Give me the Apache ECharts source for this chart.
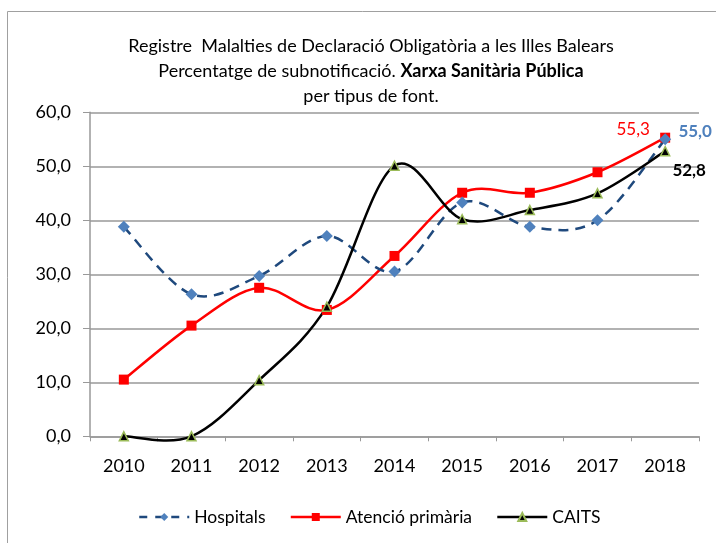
<!DOCTYPE html>
<html>
<head>
<meta charset="utf-8">
<script src="https://cdn.jsdelivr.net/npm/echarts@6/dist/echarts.min.js"></script>
<style>html,body{margin:0;padding:0;background:#fff}#c{width:716px;height:543px}</style>
</head>
<body>
<div id="c"></div>
<script>
var categories = ['2010','2011','2012','2013','2014','2015','2016','2017','2018'];
var hospitals = [38.8, 26.3, 29.7, 37.1, 30.5, 43.3, 38.8, 40.0, 55.0];
var atencio = [10.5, 20.5, 27.5, 23.4, 33.4, 45.1, 45.1, 48.9, 55.3];
var caits = [0.0, 0.0, 10.4, 24.0, 50.1, 40.2, 41.9, 45.0, 52.8];
var seriesNames = ['Hospitals', 'Atenció primària', 'CAITS'];

var FONT = 'Lato';
function fmt(v){ return v.toFixed(1).replace('.', ','); }
function withLastLabel(arr, labelOpt){
  return arr.map(function(v, i){
    if (i === arr.length - 1) return { value: v, label: labelOpt };
    return v;
  });
}
// Smooth curve (Catmull-Rom style, like spreadsheet smoothing) drawn through the axis scales
function curveSeries(arr, lineStyle, z){
  return {
    type: 'custom', silent: true, z: z, clip: false,
    data: arr,
    renderItem: function(params, api){
      if (params.dataIndex !== 0) return null;
      var p = arr.map(function(v, i){ return api.coord([i, v]); });
      var n = p.length;
      var d = 'M' + p[0][0] + ' ' + p[0][1];
      for (var i = 0; i < n - 1; i++) {
        var a = p[i - 1] || p[i], b = p[i], c = p[i + 1], e = p[i + 2] || p[i + 1];
        var c1x = b[0] + (c[0] - a[0]) / 6, c1y = b[1] + (c[1] - a[1]) / 6;
        var c2x = c[0] - (e[0] - b[0]) / 6, c2y = c[1] - (e[1] - b[1]) / 6;
        d += ' C' + c1x + ' ' + c1y + ' ' + c2x + ' ' + c2y + ' ' + c[0] + ' ' + c[1];
      }
      return {
        type: 'path', shape: { pathData: d },
        style: { fill: null, stroke: lineStyle.color, lineWidth: lineStyle.width, lineDash: lineStyle.dash || null }
      };
    }
  };
}

var hospLine = { color: '#1F497D', width: 2.5, dash: [10, 7] };
var atenLine = { color: '#FF0000', width: 2.5 };
var caitsLine = { color: '#000000', width: 2.5 };

var chart = echarts.init(document.getElementById('c'));
chart.setOption({
  animation: false,
  textStyle: { fontFamily: FONT },
  graphic: [{
    type: 'rect', shape: { x: 7.5, y: 11.5, width: 740, height: 560 },
    style: { fill: 'none', stroke: '#a0a0a0', lineWidth: 1 }, silent: true, z: -10
  }],
  title: {
    left: 366, top: 29, textAlign: 'center',
    text: '{a|Registre  Malalties de Declaració Obligatòria a les Illes Balears}\n{a|Percentatge de subnotificació. }{b|Xarxa Sanitària Pública}\n{a|per tipus de font.}',
    textStyle: {
      fontWeight: 'normal',
      rich: {
        a: { fontFamily: FONT, fontSize: 18, color: '#000', fontWeight: 'normal', lineHeight: 25 },
        b: { fontFamily: FONT, fontSize: 18, color: '#000', fontWeight: 'bold', lineHeight: 25 }
      }
    }
  },
  legend: {
    bottom: 12, left: 133,
    itemWidth: 50, itemHeight: 10, itemGap: 24,
    textStyle: { fontFamily: FONT, fontSize: 17.5, color: '#000' },
    data: [
      { name: seriesNames[0], lineStyle: { color: hospLine.color, width: 2.5, type: [8, 8], opacity: 1 } },
      { name: seriesNames[1], lineStyle: { color: atenLine.color, width: 2.5, type: 'solid', opacity: 1 } },
      { name: seriesNames[2], lineStyle: { color: caitsLine.color, width: 2.5, type: 'solid', opacity: 1 } }
    ]
  },
  grid: { left: 90, right: 17, top: 112.3, bottom: 106.7, containLabel: false },
  xAxis: {
    type: 'category', data: categories, boundaryGap: true,
    axisLine: { lineStyle: { color: '#999', width: 1.5 } },
    axisTick: { show: true, length: 5, lineStyle: { color: '#999' } },
    axisLabel: { fontFamily: FONT, fontSize: 18, color: '#000', margin: 21 },
    splitLine: { show: false }
  },
  yAxis: {
    type: 'value', min: 0, max: 60, interval: 10,
    axisLine: { show: true, lineStyle: { color: '#999', width: 1.5 } },
    axisTick: { show: true, length: 7, lineStyle: { color: '#999' } },
    axisLabel: { fontFamily: FONT, fontSize: 18, color: '#000', margin: 19, formatter: function(v){ return fmt(v); } },
    splitLine: { show: true, lineStyle: { color: '#999', width: 1.5 } }
  },
  series: [
    curveSeries(hospitals, hospLine, 3),
    curveSeries(atencio, atenLine, 2),
    curveSeries(caits, caitsLine, 4),
    {
      name: seriesNames[0], type: 'line',
      data: withLastLabel(hospitals, { show: true, position: 'inside', offset: [30, -8], formatter: function(p){ return fmt(p.value); }, color: '#4F81BD', fontWeight: 'bold', fontSize: 17, fontFamily: FONT }),
      symbol: 'diamond', symbolSize: 12, showAllSymbol: true,
      itemStyle: { color: '#4F81BD' },
      lineStyle: { color: hospLine.color, width: 2.5, type: [10, 7], opacity: 0 },
      z: 6
    },
    {
      name: seriesNames[1], type: 'line',
      data: withLastLabel(atencio, { show: true, position: 'inside', offset: [-32, -8], formatter: function(p){ return fmt(p.value); }, color: '#FF0000', fontSize: 17, fontFamily: FONT }),
      symbol: 'rect', symbolSize: 10, showAllSymbol: true,
      itemStyle: { color: '#FF0000' },
      lineStyle: { color: atenLine.color, width: 2.5, opacity: 0 },
      z: 5
    },
    {
      name: seriesNames[2], type: 'line',
      data: withLastLabel(caits, { show: true, position: 'inside', offset: [24, 19], formatter: function(p){ return fmt(p.value); }, color: '#000', fontWeight: 'bold', fontSize: 17, fontFamily: FONT }),
      symbol: 'triangle', symbolSize: 9, showAllSymbol: true,
      itemStyle: { color: '#000', borderColor: '#9BBB59', borderWidth: 1.5 },
      lineStyle: { color: caitsLine.color, width: 2.5, opacity: 0 },
      z: 7
    }
  ]
});
</script>
</body>
</html>
